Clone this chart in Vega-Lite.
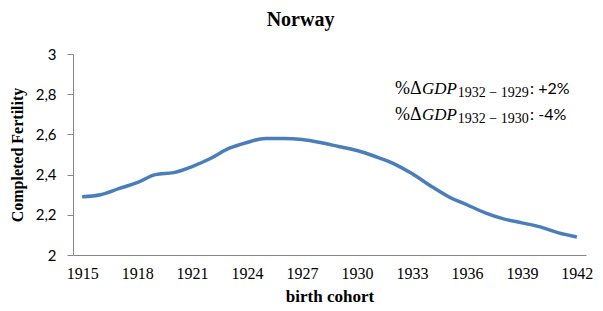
{
  "$schema": "https://vega.github.io/schema/vega-lite/v6.json",
  "width": 513,
  "height": 201,
  "autosize": {"type": "none"},
  "padding": {"left": 73, "top": 54, "right": 17, "bottom": 56},
  "background": "white",
  "title": {"text": "Norway", "font": "Liberation Serif", "fontSize": 20, "fontWeight": "bold", "color": "#000000", "offset": 17, "anchor": "middle", "dx": -29},
  "config": {"view": {"stroke": null}},
  "datasets": {
    "fert": [
      {"cohort": 1915, "fertility": 2.29},
      {"cohort": 1916, "fertility": 2.30},
      {"cohort": 1917, "fertility": 2.33},
      {"cohort": 1918, "fertility": 2.36},
      {"cohort": 1919, "fertility": 2.40},
      {"cohort": 1920, "fertility": 2.41},
      {"cohort": 1921, "fertility": 2.44},
      {"cohort": 1922, "fertility": 2.48},
      {"cohort": 1923, "fertility": 2.53},
      {"cohort": 1924, "fertility": 2.56},
      {"cohort": 1925, "fertility": 2.58},
      {"cohort": 1926, "fertility": 2.58},
      {"cohort": 1927, "fertility": 2.575},
      {"cohort": 1928, "fertility": 2.56},
      {"cohort": 1929, "fertility": 2.54},
      {"cohort": 1930, "fertility": 2.52},
      {"cohort": 1931, "fertility": 2.49},
      {"cohort": 1932, "fertility": 2.455},
      {"cohort": 1933, "fertility": 2.405},
      {"cohort": 1934, "fertility": 2.345},
      {"cohort": 1935, "fertility": 2.29},
      {"cohort": 1936, "fertility": 2.25},
      {"cohort": 1937, "fertility": 2.21},
      {"cohort": 1938, "fertility": 2.18},
      {"cohort": 1939, "fertility": 2.16},
      {"cohort": 1940, "fertility": 2.14},
      {"cohort": 1941, "fertility": 2.11},
      {"cohort": 1942, "fertility": 2.09}
    ],
    "one": [{"note": "annotation"}]
  },
  "layer": [
    {
      "data": {"name": "fert"},
      "mark": {"type": "line", "color": "#4A7EBB", "strokeWidth": 3.5, "interpolate": "monotone"},
      "encoding": {
        "x": {"field": "cohort", "type": "quantitative",
          "scale": {"domain": [1914.5, 1942.5], "nice": false, "zero": false},
          "axis": {"title": "birth cohort", "values": [1915, 1918, 1921, 1924, 1927, 1930, 1933, 1936, 1939, 1942],
            "format": "d", "grid": false, "ticks": false, "domainColor": "#868686", "domainWidth": 1,
            "labelFont": "Liberation Serif", "labelFontSize": 16, "labelColor": "#000000", "labelPadding": 10,
            "labelFlush": false, "labelOverlap": false,
            "titleFont": "Liberation Serif", "titleFontSize": 17, "titleFontWeight": "bold", "titleColor": "#000000", "titlePadding": 7}},
        "y": {"field": "fertility", "type": "quantitative",
          "scale": {"domain": [2, 3], "nice": false, "zero": false},
          "axis": {"title": "Completed  Fertility", "values": [2, 2.2, 2.4, 2.6, 2.8, 3],
            "labelExpr": "replace(format(datum.value, '.1~f'), '.', ',')",
            "grid": false, "ticks": true, "tickSize": 6, "tickColor": "#868686", "domainColor": "#868686", "domainWidth": 1,
            "labelFont": "Lato", "labelFontSize": 15, "labelColor": "#000000", "labelPadding": 11, "labelFlush": false,
            "titleFont": "Liberation Serif", "titleFontSize": 16, "titleFontWeight": "bold", "titleColor": "#000000", "titlePadding": 10}}
      }
    },
    {"data": {"name": "one"}, "mark": {"type": "text", "align": "left", "baseline": "alphabetic", "font": "Liberation Serif", "fontSize": 18, "color": "#000000"},
     "encoding": {"x": {"datum": 1932.07}, "y": {"datum": 2.8}, "text": {"value": "%Δ"}}},
    {"data": {"name": "one"}, "mark": {"type": "text", "align": "left", "baseline": "alphabetic", "font": "Liberation Serif", "fontSize": 17, "fontStyle": "italic", "color": "#000000"},
     "encoding": {"x": {"datum": 1933.55}, "y": {"datum": 2.8}, "text": {"value": "GDP"}}},
    {"data": {"name": "one"}, "mark": {"type": "text", "align": "left", "baseline": "alphabetic", "font": "Liberation Serif", "fontSize": 14, "color": "#000000"},
     "encoding": {"x": {"datum": 1935.5}, "y": {"datum": 2.786}, "text": {"value": "1932 − 1929"}}},
    {"data": {"name": "one"}, "mark": {"type": "text", "align": "left", "baseline": "alphabetic", "font": "Lato", "fontSize": 16, "color": "#000000"},
     "encoding": {"x": {"datum": 1939.45}, "y": {"datum": 2.8}, "text": {"value": ": +2%"}}},
    {"data": {"name": "one"}, "mark": {"type": "text", "align": "left", "baseline": "alphabetic", "font": "Liberation Serif", "fontSize": 18, "color": "#000000"},
     "encoding": {"x": {"datum": 1932.07}, "y": {"datum": 2.672}, "text": {"value": "%Δ"}}},
    {"data": {"name": "one"}, "mark": {"type": "text", "align": "left", "baseline": "alphabetic", "font": "Liberation Serif", "fontSize": 17, "fontStyle": "italic", "color": "#000000"},
     "encoding": {"x": {"datum": 1933.55}, "y": {"datum": 2.672}, "text": {"value": "GDP"}}},
    {"data": {"name": "one"}, "mark": {"type": "text", "align": "left", "baseline": "alphabetic", "font": "Liberation Serif", "fontSize": 14, "color": "#000000"},
     "encoding": {"x": {"datum": 1935.5}, "y": {"datum": 2.658}, "text": {"value": "1932 − 1930"}}},
    {"data": {"name": "one"}, "mark": {"type": "text", "align": "left", "baseline": "alphabetic", "font": "Lato", "fontSize": 16, "color": "#000000"},
     "encoding": {"x": {"datum": 1939.45}, "y": {"datum": 2.672}, "text": {"value": ": -4%"}}}
  ]
}
